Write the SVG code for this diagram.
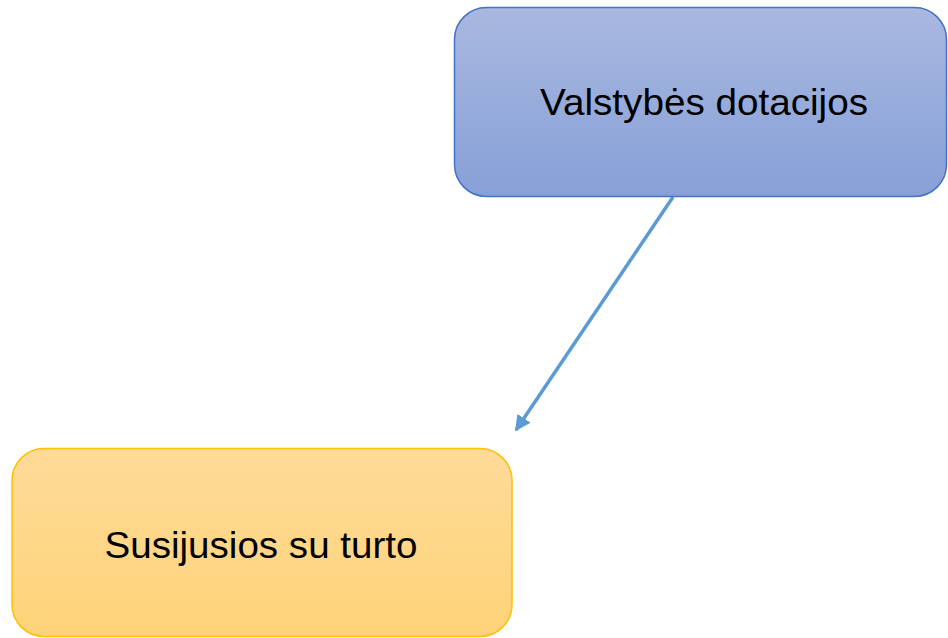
<svg xmlns="http://www.w3.org/2000/svg" width="948" height="638" viewBox="0 0 948 638">
<defs>
<linearGradient id="gBlue" x1="0" y1="0" x2="0" y2="1"><stop offset="0" stop-color="#a9b8e0"/><stop offset="1" stop-color="#87a0d7"/></linearGradient>
<linearGradient id="gOrange" x1="0" y1="0" x2="0" y2="1"><stop offset="0" stop-color="#fedb99"/><stop offset="1" stop-color="#fed378"/></linearGradient>
<marker id="arr" viewBox="0 0 10 10" refX="9" refY="5" markerWidth="4.5" markerHeight="4.5" orient="auto" markerUnits="strokeWidth"><path d="M0,0 L10,5 L0,10 z" fill="#5b9bd5"/></marker>
</defs>
<style>
.lbl{font-family:"Liberation Sans",Arial,sans-serif;font-size:37px;fill:#000;text-anchor:middle}
.edge{stroke:#5b9bd5;stroke-width:3.5;fill:none}
</style>
<rect width="948" height="638" fill="#fff"/>
<g id="edges">
<line class="edge" x1="673" y1="197" x2="516" y2="430" marker-end="url(#arr)"/>
</g>
<g id="node-valstybes">
<rect x="454.5" y="7.5" width="492" height="189" rx="32" fill="url(#gBlue)" stroke="#4472c4" stroke-width="1.5"/>
<text class="lbl" x="704" y="115" textLength="328" lengthAdjust="spacingAndGlyphs">Valstybės dotacijos</text>
</g>
<g id="node-susijusios">
<rect x="12" y="448.5" width="500" height="188" rx="32" fill="url(#gOrange)" stroke="#ffc000" stroke-width="1.5"/>
<text class="lbl" x="261" y="558" textLength="313" lengthAdjust="spacingAndGlyphs">Susijusios su turto</text>
</g>
</svg>
